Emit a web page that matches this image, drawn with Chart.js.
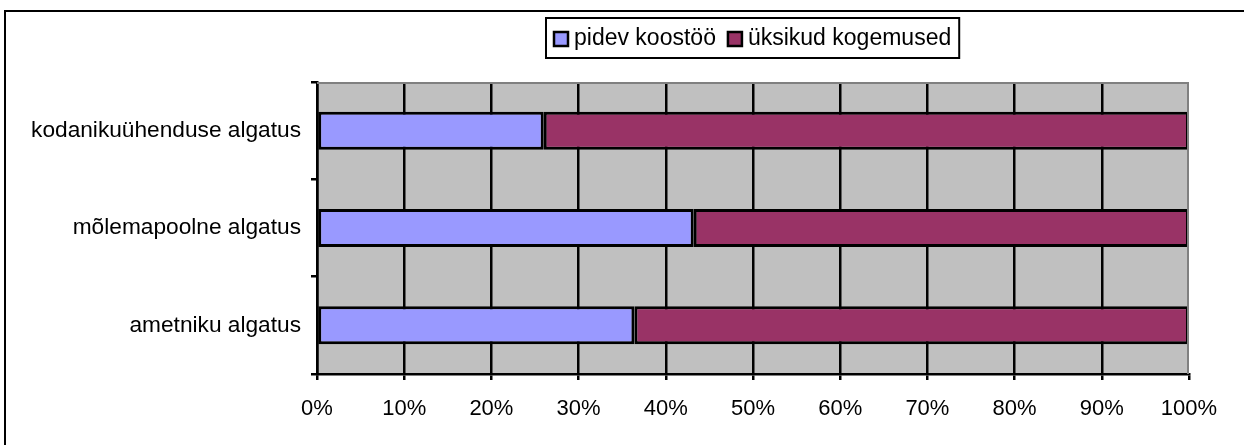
<!DOCTYPE html>
<html lang="et">
<head>
<meta charset="UTF-8">
<title>Koostöö algatus</title>
<script src="https://cdn.jsdelivr.net/npm/chart.js"></script>
<style>
    body { margin: 0; background: #fff; }
    #chart { display: block; }
</style>
</head>
<body>
<canvas id="chart" width="1244" height="445"></canvas>
<script>
    // data
    const categories = ['kodanikuühenduse algatus', 'mõlemapoolne algatus', 'ametniku algatus'];
    const seriesNames = ['pidev koostöö', 'üksikud kogemused'];
    const pidev = [26.0, 43.2, 36.4];
    const yksikud = [74.0, 56.8, 63.6];
    const xTicks = [0, 10, 20, 30, 40, 50, 60, 70, 80, 90, 100];

    const colors = ['#9999FF', '#993366'];
    const FONT = 'Arial, "Liberation Sans", sans-serif';

    // grey plot background, frame, outer border and boxed legend
    const decor = {
        id: 'decor',
        beforeDraw(chart) {
            const ctx = chart.ctx, a = chart.chartArea;
            ctx.save();
            ctx.fillStyle = '#C0C0C0';
            ctx.fillRect(a.left, a.top, a.right - a.left, a.bottom - a.top);
            ctx.restore();
        },
        afterDraw(chart) {
            const ctx = chart.ctx, a = chart.chartArea;
            ctx.save();
            // grey frame top + right
            ctx.strokeStyle = '#808080';
            ctx.lineWidth = 2;
            ctx.beginPath();
            ctx.moveTo(a.left, a.top + 1);
            ctx.lineTo(a.right - 1, a.top + 1);
            ctx.lineTo(a.right - 1, a.bottom);
            ctx.stroke();

            // outer border (right/bottom edges fall outside the picture)
            ctx.strokeStyle = '#000';
            ctx.strokeRect(5, 11, 1400, 600);

            // legend
            ctx.font = '23px ' + FONT;
            ctx.textBaseline = 'middle';
            const sq = 14, gapIn = 6, gapOut = 12, pad = 8;
            const widths = seriesNames.map(n => ctx.measureText(n).width);
            let total = pad * 2;
            widths.forEach((w, i) => { total += sq + gapIn + w + (i ? gapOut : 0); });
            const cx = (a.left + a.right) / 2;
            const left = Math.round(cx - total / 2), top = 18, h = 40;
            ctx.lineWidth = 2;
            ctx.strokeStyle = '#000';
            ctx.strokeRect(left, top, total, h);
            let x = left + pad;
            const my = top + h / 2 + 1;
            seriesNames.forEach((n, i) => {
                if (i) x += gapOut;
                ctx.fillStyle = colors[i];
                ctx.fillRect(x, my - sq / 2, sq, sq);
                ctx.lineWidth = 2.5;
                ctx.strokeRect(x, my - sq / 2, sq, sq);
                x += sq + gapIn;
                ctx.fillStyle = '#000';
                ctx.fillText(n, x, my);
                x += widths[i];
            });
            ctx.restore();
        }
    };

    new Chart(document.getElementById('chart'), {
        type: 'bar',
        data: {
            labels: categories,
            datasets: [
                { label: seriesNames[0], data: pidev, backgroundColor: colors[0] },
                { label: seriesNames[1], data: yksikud, backgroundColor: colors[1] }
            ]
        },
        options: {
            indexAxis: 'y',
            responsive: false,
            animation: false,
            devicePixelRatio: 1,
            layout: { padding: { top: 82, right: 55, left: 0, bottom: 0 } },
            datasets: {
                bar: {
                    borderColor: '#000',
                    borderWidth: 3,
                    borderSkipped: false,
                    categoryPercentage: 1,
                    barPercentage: 0.39
                }
            },
            plugins: {
                legend: { display: false },
                tooltip: { enabled: false }
            },
            scales: {
                x: {
                    stacked: true,
                    min: 0,
                    max: 100,
                    afterBuildTicks(scale) { scale.ticks = xTicks.map(v => ({ value: v })); },
                    afterFit(scale) { scale.height = 71; },
                    ticks: {
                        color: '#000',
                        font: { family: FONT, size: 22 },
                        padding: 16,
                        maxRotation: 0,
                        callback: v => v + '%'
                    },
                    grid: {
                        color: c => (c.tick && c.tick.value === 100) ? 'rgba(0,0,0,0)' : '#000',
                        tickColor: '#000',
                        lineWidth: 2.5,
                        tickLength: 6
                    },
                    border: { color: '#000', width: 2.5 }
                },
                y: {
                    stacked: true,
                    afterFit(scale) { scale.width = 317; },
                    ticks: {
                        color: '#000',
                        font: { family: FONT, size: 22.7 },
                        padding: 10
                    },
                    grid: {
                        drawOnChartArea: false,
                        color: '#000',
                        lineWidth: 2.5,
                        tickLength: 6
                    },
                    border: { color: '#000', width: 2.5 }
                }
            }
        },
        plugins: [decor]
    });
</script>
</body>
</html>
